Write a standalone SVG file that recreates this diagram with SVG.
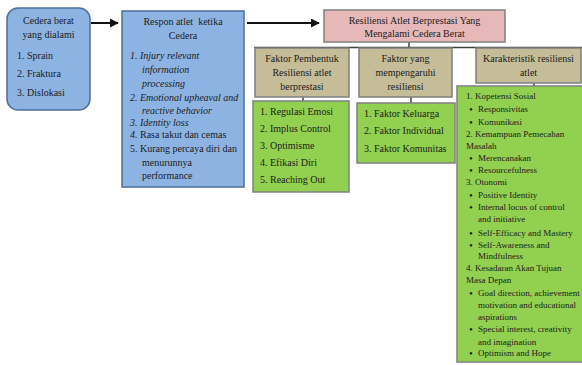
<svg xmlns="http://www.w3.org/2000/svg" width="582" height="365" viewBox="0 0 582 365">
<defs>
<marker id="ah" viewBox="0 0 10 10" refX="9" refY="5" markerWidth="4.5" markerHeight="4.5" orient="auto" markerUnits="strokeWidth"><path d="M0,0 L10,5 L0,10 z" fill="#111"/></marker>
<style>
text{font-family:"Liberation Serif","Times New Roman",serif;font-size:10px;fill:#1c1c1c}
.c{text-anchor:middle}
.i{font-style:italic}
.s{font-size:9px}
.b{font-size:11px}
.blue{fill:#8DB3E2;stroke:#4F6F99;stroke-width:1.5}
.pink{fill:#E6B9B8;stroke:#7F7F7F;stroke-width:1.5}
.tan{fill:#C4BD97;stroke:#7F7F7F;stroke-width:1.5}
.green{fill:#92D050;stroke:#7F7F7F;stroke-width:1.5}
.arr{stroke:#111;stroke-width:2;fill:none;marker-end:url(#ah)}
.ln{stroke:#404040;stroke-width:1.5;fill:none}
</style>
</defs>
<g id="connectors">
<line class="arr" x1="91" y1="23" x2="118" y2="23"/>
<line class="arr" x1="247" y1="23" x2="319" y2="23"/>
<line class="ln" x1="409" y1="42" x2="409" y2="48"/>
<line class="ln" x1="254" y1="47.5" x2="582" y2="47.5"/>
<line class="ln" x1="303" y1="97" x2="303" y2="101"/>
<line class="ln" x1="411" y1="97" x2="411" y2="103"/>
<line class="ln" x1="534" y1="83" x2="534" y2="86"/>
</g>
<g id="cedera">
<rect class="blue" x="7" y="8" width="83" height="102" rx="11"/>
<text class="c" x="48.5" y="23.5">Cedera berat</text>
<text class="c" x="48.5" y="37.5">yang dialami</text>
<text x="17" y="58.5">1. Sprain</text>
<text x="17" y="77">2. Fraktura</text>
<text x="17" y="95.5">3. Dislokasi</text>
</g>
<g id="respon">
<rect class="blue" x="122" y="11" width="122" height="176"/>
<text class="c" x="183" y="24.5">Respon atlet&#160; ketika</text>
<text class="c" x="183" y="38.5">Cedera</text>
<text class="i" x="130" y="59">1. Injury relevant</text>
<text class="i" x="142" y="73">information</text>
<text class="i" x="142" y="87">processing</text>
<text class="i" x="130" y="100.5">2. Emotional upheaval and</text>
<text class="i" x="142" y="113.5">reactive behavior</text>
<text class="i" x="130" y="125.5">3. Identity loss</text>
<text x="130" y="138"><tspan class="i">4.</tspan> Rasa takut dan cemas</text>
<text x="130" y="151.5">5. Kurang percaya diri dan</text>
<text x="142" y="165.5">menurunnya</text>
<text x="142" y="179">performance</text>
</g>
<g id="resiliensi">
<rect class="pink" x="324" y="10" width="181" height="32"/>
<text class="c" x="414.5" y="23.5">Resiliensi Atlet Berprestasi Yang</text>
<text class="c" x="414.5" y="37">Mengalami Cedera Berat</text>
</g>
<g id="faktor-pembentuk">
<rect class="tan" x="255" y="48" width="94" height="49"/>
<text class="c" x="302" y="61.5">Faktor Pembentuk</text>
<text class="c" x="302" y="75.5">Resiliensi atlet</text>
<text class="c" x="302" y="89.5">berprestasi</text>
</g>
<g id="faktor-yang">
<rect class="tan" x="359" y="48" width="93" height="49"/>
<text class="c" x="405.5" y="61.5">Faktor yang</text>
<text class="c" x="405.5" y="75.5">mempengaruhi</text>
<text class="c" x="405.5" y="89.5">resiliensi</text>
</g>
<g id="karakteristik">
<rect class="tan" x="476" y="48" width="105" height="35"/>
<text class="c" x="528.5" y="61.5">Karakteristik resiliensi</text>
<text class="c" x="528.5" y="75.5">atlet</text>
</g>
<g id="list-pembentuk">
<rect class="green" x="253" y="101" width="96" height="91"/>
<text x="260" y="114.5">1. Regulasi Emosi</text>
<text x="260" y="131.5">2. Implus Control</text>
<text x="260" y="148.5">3. Optimisme</text>
<text x="260" y="165.5">4. Efikasi Diri</text>
<text x="260" y="182.5">5. Reaching Out</text>
</g>
<g id="list-faktor">
<rect class="green" x="357" y="103" width="98" height="60"/>
<text x="364" y="116.5">1. Faktor Keluarga</text>
<text x="364" y="134">2. Faktor Individual</text>
<text x="364" y="151.5">3. Faktor Komunitas</text>
</g>
<g id="list-karakteristik">
<rect class="green" x="457" y="86" width="127" height="276"/>
<text class="s" x="466" y="99">1. Kopetensi Sosial</text>
<text class="b" x="469" y="112.5">•</text><text class="s" x="478" y="112">Responsivitas</text>
<text class="b" x="469" y="125.5">•</text><text class="s" x="478" y="125">Komunikasi</text>
<text class="s" x="466" y="136.5">2. Kemampuan Pemecahan</text>
<text class="s" x="466" y="149">Masalah</text>
<text class="b" x="469" y="161.5">•</text><text class="s" x="478" y="161">Merencanakan</text>
<text class="b" x="469" y="173.5">•</text><text class="s" x="478" y="173">Resourcefulness</text>
<text class="s" x="466" y="185">3. Otonomi</text>
<text class="b" x="469" y="198.5">•</text><text class="s" x="478" y="198">Positive Identity</text>
<text class="b" x="469" y="210.5">•</text><text class="s" x="478" y="210">Internal locus of control</text>
<text class="s" x="478" y="222">and initiative</text>
<text class="b" x="469" y="236.5">•</text><text class="s" x="478" y="236">Self-Efficacy and Mastery</text>
<text class="b" x="469" y="248.5">•</text><text class="s" x="478" y="248">Self-Awareness and</text>
<text class="s" x="478" y="259">Mindfulness</text>
<text class="s" x="466" y="271">4. Kesadaran Akan Tujuan</text>
<text class="s" x="466" y="283">Masa Depan</text>
<text class="b" x="469" y="296.5">•</text><text class="s" x="478" y="296">Goal direction, achievement</text>
<text class="s" x="478" y="308">motivation and educational</text>
<text class="s" x="478" y="320">aspirations</text>
<text class="b" x="469" y="332.5">•</text><text class="s" x="478" y="332">Special interest, creativity</text>
<text class="s" x="478" y="345">and imagination</text>
<text class="b" x="469" y="356.5">•</text><text class="s" x="478" y="356">Optimism and Hope</text>
</g>
</svg>
